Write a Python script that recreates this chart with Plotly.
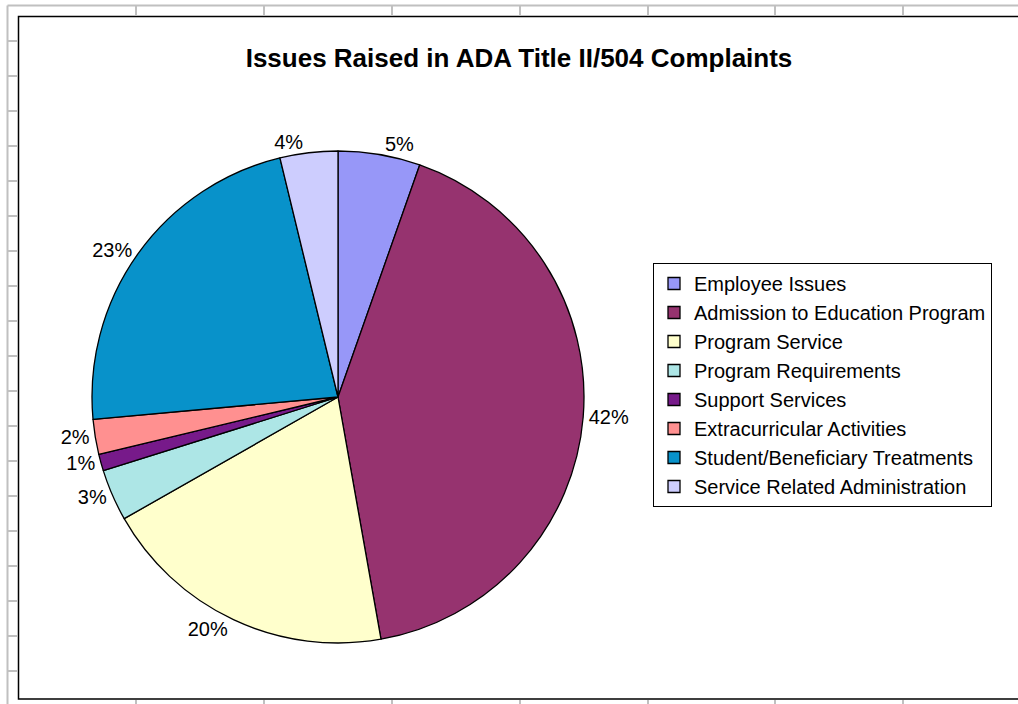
import plotly.graph_objects as go

categories = [
    "Employee Issues",
    "Admission to Education Program",
    "Program Service",
    "Program Requirements",
    "Support Services",
    "Extracurricular Activities",
    "Student/Beneficiary Treatments",
    "Service Related Administration",
]
values = [5.4, 41.9, 19.6, 3.4, 1.1, 2.3, 22.7, 3.8]
colors = ["#9797F8", "#96336F", "#FFFFCC", "#ADE6E6", "#771A8A", "#FF9090", "#0892CA", "#CDCDFE"]

W, H = 1018, 704

def px(x):
    return x / W

def py(y):
    return 1 - y / H

fig = go.Figure()
fig.add_trace(go.Pie(
    labels=categories,
    values=values,
    sort=False,
    direction="clockwise",
    rotation=0,
    marker=dict(colors=colors, line=dict(color="black", width=1.3)),
    textposition="outside",
    texttemplate="%{percent:.0%}",
    textfont=dict(family="Liberation Sans, Arial", size=20, color="black"),
    domain=dict(x=[px(92), px(584)], y=[py(643), py(151)]),
    hoverinfo="label+percent",
))

shapes = []
grid = "#C0C0C0"
# spreadsheet frame lines
shapes.append(dict(type="line", xref="paper", yref="paper", x0=px(7.5), x1=px(7.5), y0=0, y1=py(5.5),
                   line=dict(color=grid, width=2)))
shapes.append(dict(type="line", xref="paper", yref="paper", x0=px(7.5), x1=1, y0=py(5.5), y1=py(5.5),
                   line=dict(color=grid, width=2)))
for yy in range(41, 700, 35):
    shapes.append(dict(type="line", xref="paper", yref="paper", x0=px(8), x1=px(18), y0=py(yy), y1=py(yy),
                       line=dict(color=grid, width=2)))
for xx in [136, 264, 392, 520, 648, 775, 903]:
    shapes.append(dict(type="line", xref="paper", yref="paper", x0=px(xx), x1=px(xx), y0=py(6), y1=py(16),
                       line=dict(color=grid, width=2)))
    shapes.append(dict(type="line", xref="paper", yref="paper", x0=px(xx), x1=px(xx), y0=py(700), y1=0,
                       line=dict(color=grid, width=2)))
# chart border
shapes.append(dict(type="rect", xref="paper", yref="paper", x0=px(18.5), x1=px(1030), y0=py(699), y1=py(16.5),
                   line=dict(color="black", width=1.5), fillcolor="rgba(0,0,0,0)", layer="below"))

fig.update_layout(
    width=W, height=H,
    margin=dict(l=0, r=0, t=0, b=0),
    paper_bgcolor="white",
    plot_bgcolor="white",
    font=dict(family="Liberation Sans, Arial", color="black"),
    title=dict(text="<b>Issues Raised in ADA Title II/504 Complaints</b>",
               x=519 / W, xanchor="center", y=py(58), yanchor="middle",
               font=dict(size=26, family="Liberation Sans, Arial", color="black")),
    legend=dict(
        x=px(653), y=py(263), xanchor="left", yanchor="top",
        bordercolor="black", borderwidth=1, bgcolor="white",
        font=dict(size=20, family="Liberation Sans, Arial", color="black"),
        itemwidth=30,
    ),
    shapes=shapes,
    showlegend=True,
)

fig.write_html("out.html", config={"displayModeBar": False},
               post_script="document.body.style.margin='0px';")
